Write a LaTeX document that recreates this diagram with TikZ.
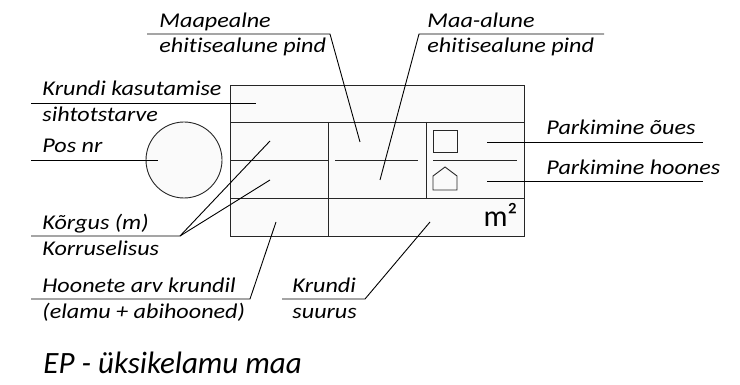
\documentclass[tikz,border=0pt]{standalone}
\usepackage{fontspec}
\setmainfont[Ligatures=NoCommon]{Carlito}
\newfontfamily\lblfont[Ligatures=NoCommon, FakeStretch=1.15]{Carlito}
\tikzset{every picture/.style={line width=0.9pt}}
\tikzset{
  lbl/.style={anchor=base west, inner sep=0pt, font=\lblfont\fontsize{21}{26}\selectfont\itshape},
  cellfill/.style={fill=black!2, draw=black!85},
  leader/.style={draw=black}
}

\begin{document}
\begin{tikzpicture}[x=1pt,y=1pt,yscale=-1,xscale=1]
\useasboundingbox (0,0) rectangle (740,385);

%Shape: Rectangle [id:table]
\draw [cellfill] (230,85) rectangle (524,236);
%Straight Lines [id:rows]
\draw [draw=black!85] (230,122) -- (524,122);
\draw [draw=black!85] (230,198) -- (524,198);
\draw [draw=black!85] (230,160) -- (328,160);
\draw [draw=black!85] (335,160) -- (418,160);
\draw [draw=black!85] (433,160) -- (517,160);
%Straight Lines [id:cols]
\draw [draw=black!85] (328,122) -- (328,236);
\draw [draw=black!85] (426,122) -- (426,198);

%Shape: Square [id:parkOues]
\draw [draw=black!85] (433,130) rectangle (457,152);
%Shape: House [id:parkHoones]
\draw [draw=black!85] (433,190) -- (433,176) -- (445,167) -- (457,176) -- (457,190) -- cycle;

%Shape: Circle [id:posCircle]
\node [circle, cellfill, minimum size=76pt, inner sep=0pt] (posCircle) at (184,160) {};

% Leader ends
\coordinate (kasutamiseA) at (31,103);
\coordinate (kasutamiseB) at (256,103);
\coordinate (posA) at (31,160);
\coordinate (posB) at (158,160);
\coordinate (maapealneA) at (147,34);
\coordinate (maapealneB) at (330,34);
\coordinate (maapealneC) at (360,142);
\coordinate (maaAluneA) at (604,34);
\coordinate (maaAluneB) at (419,34);
\coordinate (maaAluneC) at (380,180);
\coordinate (ouesA) at (487,142);
\coordinate (ouesB) at (703,142);
\coordinate (hoonesA) at (487,181);
\coordinate (hoonesB) at (703,181);
\coordinate (korgusA) at (31,236);
\coordinate (korgusB) at (180,236);
\coordinate (korgusC) at (270,141);
\coordinate (korrusC) at (270,180);
\coordinate (hooneteA) at (31,299);
\coordinate (hooneteB) at (250,299);
\coordinate (hooneteC) at (276,222);
\coordinate (suurusA) at (282,299);
\coordinate (suurusB) at (365,299);
\coordinate (suurusC) at (430,222);

%Straight Lines [id:leaders]
\draw [leader] (kasutamiseA) -- (kasutamiseB);
\draw [leader] (posA) -- (posB);
\draw [leader] (maapealneA) -- (maapealneB) -- (maapealneC);
\draw [leader] (maaAluneA) -- (maaAluneB) -- (maaAluneC);
\draw [leader] (ouesA) -- (ouesB);
\draw [leader] (hoonesA) -- (hoonesB);
\draw [leader] (korgusA) -- (korgusB) -- (korgusC);
\draw [leader] (korgusB) -- (korrusC);
\draw [leader] (hooneteA) -- (hooneteB) -- (hooneteC);
\draw [leader] (suurusA) -- (suurusB) -- (suurusC);

% Text Node
\node [lbl] (txtKasutamise) at (42,96) {Krundi kasutamise};
% Text Node
\node [lbl] (txtSihtotstarve) at (42,122) {sihtotstarve};
% Text Node
\node [lbl] (txtPos) at (42,153) {Pos nr};
% Text Node
\node [lbl] (txtMaapealne) at (159,28) {Maapealne};
% Text Node
\node [lbl] (txtMaapealnePind) at (159,53) {ehitisealune pind};
% Text Node
\node [lbl] (txtMaaAlune) at (427,28) {Maa-alune};
% Text Node
\node [lbl] (txtMaaAlunePind) at (427,53) {ehitisealune pind};
% Text Node
\node [lbl] (txtOues) at (546,135) {Parkimine õues};
% Text Node
\node [lbl] (txtHoones) at (546,175) {Parkimine hoones};
% Text Node
\node [lbl] (txtKorgus) at (42,230) {Kõrgus (m)};
% Text Node
\node [lbl] (txtKorrus) at (42,255) {Korruselisus};
% Text Node
\node [lbl] (txtHoonete) at (42,292) {Hoonete arv krundil};
% Text Node
\node [lbl] (txtElamu) at (42,318) {(elamu + abihooned)};
% Text Node
\node [lbl] (txtKrundi) at (292,292) {Krundi};
% Text Node
\node [lbl] (txtSuurus) at (292,318) {suurus};
% Text Node
\node [anchor=base east, inner sep=0pt, font=\fontsize{30}{34}\selectfont] (txtPind) at (518,227) {m²};
% Text Node
\node [lbl, font=\fontsize{31}{36}\selectfont\itshape] (txtTitle) at (43,373) {EP - üksikelamu maa};

\end{tikzpicture}
\end{document}
